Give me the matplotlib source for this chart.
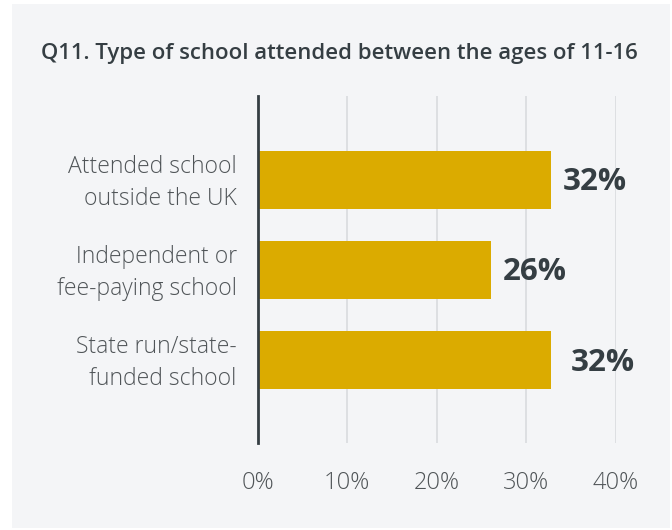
import matplotlib
matplotlib.use("Agg")
import matplotlib.pyplot as plt
from matplotlib.patches import Rectangle
from matplotlib.transforms import ScaledTranslation

# ---- data ----
categories = ["Attended school\noutside the UK",
              "Independent or\nfee-paying school",
              "State run/state-\nfunded school"]
values = [32.8, 26.0, 32.7]
value_labels = ["32%", "26%", "32%"]
x_ticks = [0, 10, 20, 30, 40]
x_tick_labels = ["0%", "10%", "20%", "30%", "40%"]
title = "Q11. Type of school attended between the ages of 11-16"

# ---- style ----
W, H = 672, 530
BG = "#f4f5f7"
BAR = "#dbab00"
DARK = "#353e43"
LABEL = "#505558"
GRID = "#d9dbde"
label_offsets_px = [(11, -2), (12, -2), (20, -3)]

plt.rcParams['font.family'] = ['Open Sans', 'DejaVu Sans']

fig = plt.figure(figsize=(W / 100, H / 100), dpi=100)
fig.patch.set_facecolor("white")
fig.patches.append(Rectangle((12 / W, 1 - 528 / H), (670 - 12) / W, (528 - 4) / H,
                             transform=fig.transFigure, facecolor=BG,
                             edgecolor="none", zorder=-10))

left, right, top, bottom = 257.5, 616, 96, 443
ax = fig.add_axes([left / W, 1 - bottom / H, (right - left) / W, (bottom - top) / H])
ax.set_facecolor("none")

pos = list(range(len(categories)))
ax.barh(pos, values, height=0.645, color=BAR, zorder=3)
ax.set_xlim(0, 40)
ax.set_ylim(2.922, -0.933)

ax.set_xticks(x_ticks)
ax.set_xticklabels(x_tick_labels, fontsize=17, color=LABEL, fontweight="light")
ax.set_yticks(pos)
ax.set_yticklabels(categories, fontsize=16.5, color=LABEL, fontweight="light",
                   linespacing=1.42)
ax.tick_params(axis="x", length=0, pad=20)
ax.tick_params(axis="y", length=0, pad=15)
shift = ScaledTranslation(0, 4 / 100, fig.dpi_scale_trans)
for t in ax.get_yticklabels():
    t.set_transform(t.get_transform() + shift)
ax.xaxis.grid(True, color=GRID, linewidth=1.2, zorder=0)
ax.yaxis.grid(False)
for s in ["top", "right", "bottom"]:
    ax.spines[s].set_visible(False)
ax.spines["left"].set_color(DARK)
ax.spines["left"].set_linewidth(2)
ax.spines["left"].set_zorder(4)

for p, v, lab, (dx, dy) in zip(pos, values, value_labels, label_offsets_px):
    ax.annotate(lab, (v, p), xytext=(dx * 0.72, dy * 0.72), textcoords="offset points",
                ha="left", va="center", fontsize=22.5, fontweight="bold", color=DARK,
                annotation_clip=False)

fig.text(339.5 / W, 1 - 53 / H, title, ha="center", va="center",
         fontsize=15.9, fontweight="semibold", color=DARK)

fig.savefig("out.png", dpi=100, facecolor=fig.get_facecolor())
